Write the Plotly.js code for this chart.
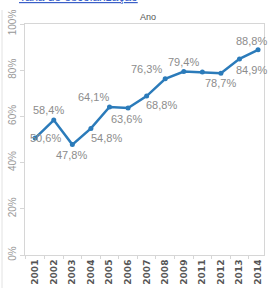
<!DOCTYPE html>
<html>
<head>
<meta charset="utf-8">
<script src="https://cdn.plot.ly/plotly-3.0.1.min.js"></script>
<style>
  html, body { margin: 0; padding: 0; background: #fff; }
  #chart { width: 269px; height: 288px; }
</style>
</head>
<body>
<div id="chart"></div>
<script>
// Data
const years = ["2001","2002","2003","2004","2005","2006","2007","2008","2009","2011","2012","2013","2014"];
const values = [0.506, 0.584, 0.478, 0.548, 0.641, 0.636, 0.688, 0.763, 0.794, 0.792, 0.787, 0.849, 0.888];
const labels = ["50,6%","58,4%","47,8%","54,8%","64,1%","63,6%","68,8%","76,3%","79,4%","","78,7%","84,9%","88,8%"];
const yTickVals = [0, 0.2, 0.4, 0.6, 0.8, 1.0];
const yTickText = ["0%","20%","40%","60%","80%","100%"];

// Label offsets (style, in px)
const labelDx = [10, -5, -1, 16, -16, -2, 15, -19, 0, 0, 0, 12, -7];
const labelDy = [0, 10, -10, -10, 10, -11, -9, 10, 10, 0, -10, -11, 9];

const lineColor = "#2b7bba";
const labelColor = "#8c8c8c";

const annotations = [];
years.forEach((yr, i) => {
  if (!labels[i]) return;
  annotations.push({
    x: i, y: values[i], xref: "x", yref: "y",
    text: labels[i], showarrow: false,
    xshift: labelDx[i], yshift: labelDy[i],
    xanchor: "center", yanchor: "middle",
    font: {family: "Liberation Sans, Arial, sans-serif", size: 11, color: labelColor}
  });
});
annotations.push({
  xref: "paper", yref: "paper", x: -0.035, y: 1 + 18/231,
  xanchor: "left", yanchor: "bottom", showarrow: false,
  text: "<u>Taxa de escolarização</u>",
  font: {family: "Liberation Sans, Arial, sans-serif", size: 12, color: "#3a5fc8"}
});

const trace = {
  type: "scatter", mode: "lines+markers",
  x: years, y: values,
  line: {color: lineColor, width: 2.5},
  marker: {color: lineColor, size: 5},
  hoverinfo: "skip",
  cliponaxis: false
};

const layout = {
  width: 269, height: 288,
  margin: {l: 25, r: 5, t: 24, b: 33, pad: 0},
  paper_bgcolor: "#fff", plot_bgcolor: "#fff",
  showlegend: false,
  title: {
    text: "Ano", x: 148/269, xref: "container", xanchor: "center",
    y: 1 - 17/288, yref: "container", yanchor: "middle",
    font: {family: "Liberation Sans, Arial, sans-serif", size: 9, color: "#555"}
  },
  xaxis: {
    type: "category", range: [-0.55, 12.32],
    showline: true, linecolor: "#d6d6d6", linewidth: 1, mirror: true,
    showgrid: false, zeroline: false,
    ticks: "outside", ticklen: 3, tickcolor: "#d6d6d6", tickson: "boundaries",
    tickangle: -90,
    tickfont: {family: "DejaVu Sans, sans-serif", size: 9, color: "#555", weight: "bold"}
  },
  yaxis: {
    range: [0, 1.0],
    tickvals: yTickVals, ticktext: yTickText,
    showline: true, linecolor: "#d6d6d6", linewidth: 1, mirror: true,
    showgrid: false, zeroline: false,
    ticks: "outside", ticklen: 4, tickcolor: "#d6d6d6",
    tickangle: -90,
    tickfont: {family: "Liberation Sans, Arial, sans-serif", size: 10, color: "#999"}
  },
  annotations: annotations,
  shapes: [{
    type: "line", xref: "paper", yref: "paper",
    x0: -23/239, x1: -23/239, y0: -33/231, y1: 1 + 14/231,
    line: {color: "#e2e2e2", width: 1}
  }]
};

Plotly.newPlot("chart", [trace], layout, {displayModeBar: false, staticPlot: true});
</script>
</body>
</html>
